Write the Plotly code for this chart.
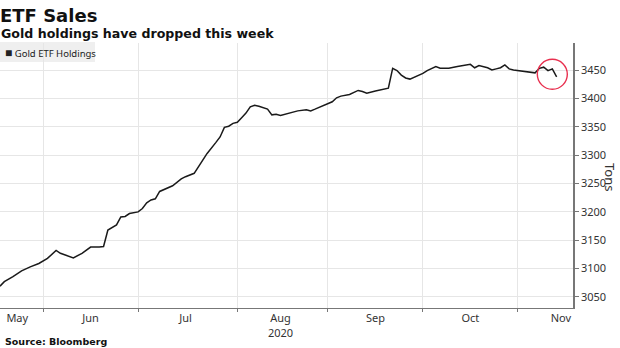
import plotly.graph_objects as go

# ---- data ----
dates = [
    "2020-05-18", "2020-05-19", "2020-05-21", "2020-05-25", "2020-05-27", "2020-05-29",
    "2020-06-02", "2020-06-04", "2020-06-05", "2020-06-09", "2020-06-10", "2020-06-12",
    "2020-06-15", "2020-06-16", "2020-06-18", "2020-06-19", "2020-06-22", "2020-06-23",
    "2020-06-24", "2020-06-25", "2020-06-26", "2020-06-29", "2020-07-01", "2020-07-02",
    "2020-07-03", "2020-07-06", "2020-07-07", "2020-07-08", "2020-07-10", "2020-07-13",
    "2020-07-15", "2020-07-16", "2020-07-20", "2020-07-21", "2020-07-22", "2020-07-23",
    "2020-07-27", "2020-07-28", "2020-07-29", "2020-07-30", "2020-07-31", "2020-08-03",
    "2020-08-04", "2020-08-05", "2020-08-06", "2020-08-07", "2020-08-10", "2020-08-12",
    "2020-08-13", "2020-08-14", "2020-08-17", "2020-08-18", "2020-08-19", "2020-08-21",
    "2020-08-25", "2020-08-26", "2020-08-27", "2020-08-28", "2020-08-31", "2020-09-01",
    "2020-09-02", "2020-09-03", "2020-09-04", "2020-09-08", "2020-09-09", "2020-09-10",
    "2020-09-11", "2020-09-14", "2020-09-16", "2020-09-17", "2020-09-21", "2020-09-22",
    "2020-09-23", "2020-09-24", "2020-09-25", "2020-09-28", "2020-09-29", "2020-09-30",
    "2020-10-01", "2020-10-02", "2020-10-05", "2020-10-06", "2020-10-07", "2020-10-09",
    "2020-10-13", "2020-10-15", "2020-10-16", "2020-10-19", "2020-10-20", "2020-10-22",
    "2020-10-23", "2020-10-26", "2020-10-27", "2020-10-28", "2020-10-29", "2020-10-30",
    "2020-11-02", "2020-11-03", "2020-11-05", "2020-11-06", "2020-11-09", "2020-11-10",
    "2020-11-11", "2020-11-12", "2020-11-13",
]
holdings = [
    3069, 3077, 3086, 3096, 3103, 3109,
    3118, 3132, 3127, 3121, 3119, 3127,
    3133, 3138, 3138, 3139, 3168, 3173,
    3177, 3191, 3192, 3197, 3200, 3206,
    3216, 3221, 3223, 3236, 3243, 3246,
    3258, 3262, 3268, 3280, 3291, 3303,
    3322, 3332, 3349, 3351, 3356, 3358,
    3366, 3374, 3385, 3388, 3386, 3381,
    3371, 3372, 3370, 3372, 3375, 3378,
    3380, 3378, 3381, 3384, 3387, 3390,
    3394, 3401, 3404, 3407, 3411, 3414,
    3412, 3409, 3413, 3415, 3418, 3453,
    3449, 3441, 3436, 3434, 3437, 3441,
    3444, 3449, 3452, 3456, 3453, 3453,
    3456, 3458, 3460, 3454, 3458, 3454,
    3450, 3452, 3454, 3459, 3452, 3450,
    3449, 3448, 3445, 3445, 3453, 3455,
    3449, 3452, 3438,
]
series_name = "Gold ETF Holdings"

month_starts = ["2020-06-01", "2020-07-01", "2020-08-03", "2020-09-01", "2020-10-01", "2020-11-02"]
label_dates = ["2020-05-22", "2020-06-16", "2020-07-16", "2020-08-17", "2020-09-16", "2020-10-16", "2020-11-16"]
label_text = ["May", "Jun", "Jul", "Aug<br>2020", "Sep", "Oct", "Nov"]
y_ticks = [3050, 3100, 3150, 3200, 3250, 3300, 3350, 3400, 3450]

highlight_date = "2020-11-12"
highlight_value = 3442.5

GRID = "#e6e6e6"
AXIS = "#777777"
TXT = "#333333"

fig = go.Figure()
fig.add_trace(go.Scatter(
    x=dates, y=holdings, mode="lines", name=series_name,
    line=dict(color="#1a1a1a", width=1.5), showlegend=False,
))

fig.update_layout(
    width=620, height=348,
    margin=dict(l=0, r=47, t=43, b=40),
    paper_bgcolor="white", plot_bgcolor="white",
    font=dict(family="Noto Sans", size=11, color=TXT),
    showlegend=False,
    xaxis=dict(
        type="date",
        rangebreaks=[dict(bounds=["sat", "mon"])],
        range=["2020-05-18", "2020-11-18 19:00"],
        tickmode="array", tickvals=label_dates, ticktext=label_text,
        showgrid=False, ticks="", showline=True, linecolor=AXIS, linewidth=1,
        tickfont=dict(family="Noto Sans", size=11, color=TXT),
        minor=dict(tickmode="array", tickvals=month_starts, showgrid=True,
                   gridcolor=GRID, gridwidth=1, ticks="outside", ticklen=3,
                   tickcolor=AXIS),
        zeroline=False, fixedrange=True,
    ),
    yaxis=dict(
        side="right", range=[3030.6, 3497.6],
        tickmode="array", tickvals=y_ticks,
        showgrid=True, gridcolor=GRID, gridwidth=1,
        showline=True, linecolor=AXIS, linewidth=1.5,
        ticks="outside", ticklen=4, tickcolor=AXIS,
        tickfont=dict(family="Noto Sans", size=11, color=TXT),
        zeroline=False, fixedrange=True,
    ),
)

# titles
fig.add_annotation(text="<b>ETF Sales</b>", xref="paper", yref="paper",
                   x=-0.003, y=1 + 40 / 265, xanchor="left", yanchor="top",
                   showarrow=False, font=dict(family="DejaVu Sans", size=18, color="#111"))
fig.add_annotation(text="<b>Gold holdings have dropped this week</b>", xref="paper", yref="paper",
                   x=-0.002, y=1 + 19 / 265, xanchor="left", yanchor="top",
                   showarrow=False, font=dict(family="DejaVu Sans", size=12.6, color="#111"))

# legend box
fig.add_shape(type="rect", xref="paper", yref="paper",
              x0=0, x1=95 / 573, y0=(308 - 62) / 265, y1=(308 - 42) / 265,
              fillcolor="#efefef", line=dict(width=0), layer="below")
fig.add_annotation(text="<span style='font-size:12px'>■</span> " + series_name,
                   xref="paper", yref="paper",
                   x=3 / 573, y=(308 - 52) / 265, xanchor="left", yanchor="middle",
                   showarrow=False, font=dict(family="Noto Sans", size=9.5, color="#222"))

# axis title (reads top to bottom)
fig.add_annotation(text="Tons", xref="paper", yref="paper",
                   x=1 + 37 / 573, y=(308 - 177) / 265, xanchor="center", yanchor="middle",
                   textangle=90, showarrow=False,
                   font=dict(family="Noto Sans", size=13, color=TXT))

# source
fig.add_annotation(text="<b>Source: Bloomberg</b>", xref="paper", yref="paper",
                   x=3 / 573, y=-(341 - 308) / 265, xanchor="left", yanchor="middle",
                   showarrow=False, font=dict(family="DejaVu Sans", size=9.5, color="#111"))

# highlight circle
fig.add_shape(type="circle", xref="x", yref="y",
              xsizemode="pixel", ysizemode="pixel",
              xanchor=highlight_date, yanchor=highlight_value,
              x0=-15, x1=15, y0=-15, y1=15,
              line=dict(color="#e8304f", width=1.4))

fig.write_html("out.html")
